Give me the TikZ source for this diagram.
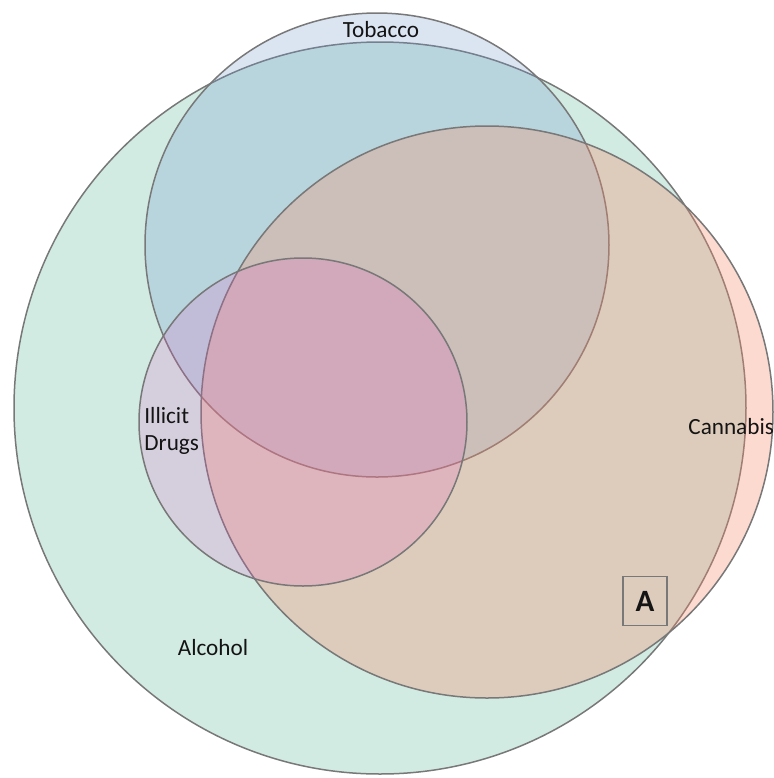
\documentclass[tikz,border=0pt]{standalone}
\usepackage{fontspec}
\setmainfont{Carlito}
\definecolor{alcohol}{RGB}{102,188,162}
\definecolor{tobacco}{RGB}{112,150,205}
\definecolor{cannabis}{RGB}{247,140,106}
\definecolor{illicit}{RGB}{235,85,195}
\definecolor{rim}{RGB}{120,120,120}
\definecolor{ink}{RGB}{20,20,20}

\begin{document}
\begin{tikzpicture}[
  x=0.5pt, y=-0.5pt,
  every set/.style={draw=rim, line width=0.75pt},
  set label/.style={font=\fontsize{11.6}{13.5}\selectfont, text=ink, inner sep=0pt},
  region box/.style={draw=rim, line width=0.6pt, text=ink, font=\bfseries\fontsize{15.5}{17}\selectfont,
    minimum width=22pt, minimum height=24.5pt, inner sep=0pt}
]
\useasboundingbox (0,0) rectangle (773,778);
\coordinate (alcohol) at (380,408);
\coordinate (tobacco) at (377,245);
\coordinate (cannabis) at (487,412);
\coordinate (illicit) at (303,422);
% the four sets
\filldraw[every set, fill=alcohol, fill opacity=.3] (alcohol) circle [radius=366];
\filldraw[every set, fill=tobacco, fill opacity=.25] (tobacco) circle [radius=232];
\filldraw[every set, fill=cannabis, fill opacity=.32] (cannabis) circle [radius=286];
\filldraw[every set, fill=illicit, fill opacity=.19] (illicit) circle [radius=164];
% labels
\node[set label] (tobacco label) at (381,30) {Tobacco};
\node[set label, anchor=west] (cannabis label) at (688,427) {Cannabis};
\node[set label, anchor=west, align=left] (illicit label) at (144,431) {Illicit\\Drugs};
\node[set label] (alcohol label) at (213,648) {Alcohol};
\node[region box] (region A) at (645,601) {A};
\end{tikzpicture}
\end{document}
